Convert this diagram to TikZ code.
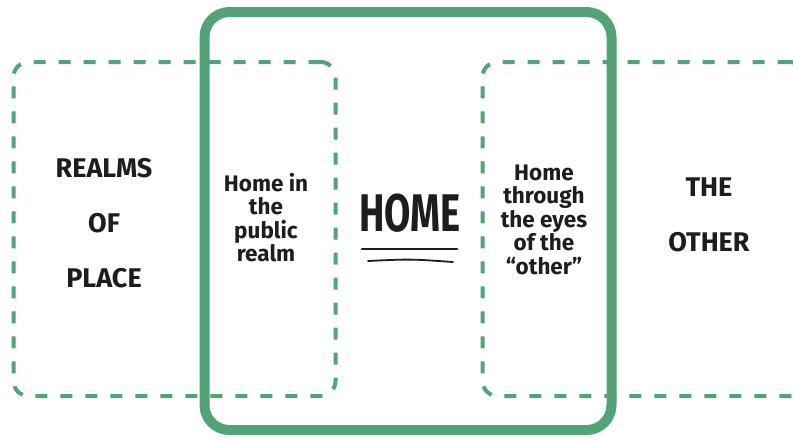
\documentclass[tikz,border=0pt]{standalone}
\usepackage{fontspec}
\setmainfont{Fira Sans}
\newfontfamily\homefont[FakeStretch=0.72]{Fira Sans}
\usepackage{xcolor}
\usepackage{tikz}
\usetikzlibrary{positioning,calc}
\definecolor{realmgreen}{RGB}{82,163,118}
\definecolor{inkblack}{RGB}{30,28,28}

\begin{document}
\begin{tikzpicture}[
  x=1pt, y=-1pt,
  realm/.style={draw=realmgreen, line width=4pt, dash pattern=on 12pt off 13pt, rounded corners=15pt, inner sep=0pt, minimum width=322pt, minimum height=334pt},
  core/.style={draw=realmgreen, line width=10pt, rounded corners=25pt, inner sep=0pt, minimum width=407pt, minimum height=418pt},
  big/.style={align=center, text=inkblack, font=\bfseries\fontsize{27}{55}\selectfont},
  small/.style={align=center, text=inkblack, font=\bfseries\fontsize{22.5}{23.5}\selectfont},
  uline/.style={draw=inkblack, line cap=round, line width=2.8pt},
]
\useasboundingbox (0,0) rectangle (793,442);
\begin{scope}
\clip (0,0) rectangle (793,442);
\node[realm] (place) at (174.5,229) {};
\node[realm] (other) at (643.5,229) {};
\node[core] (home) at (408,221) {};
\end{scope}
\node[big] (placetxt) at (104,223) {REALMS\\OF\\PLACE};
\node[big] (othertxt) at (709,214.5) {THE\\OTHER};
\node[small] (public) at (266,217.5) {Home in\\the\\public\\realm};
\node[small] (eyes) at (544,219.5) {Home\\through\\the eyes\\of the\\“other”};
\node[text=inkblack, font=\homefont\bfseries\fontsize{53}{53}\selectfont] (hometxt) at (410,213) {HOME};
\coordinate (u1a) at (362,249); \coordinate (u1b) at (457,249);
\coordinate (u2a) at (368,261); \coordinate (u2b) at (453,262);
\draw[uline] (u1a) -- (u1b);
\draw[uline, line width=1.8pt] (u2a) .. controls (410,259) .. (u2b);
\end{tikzpicture}
\end{document}
